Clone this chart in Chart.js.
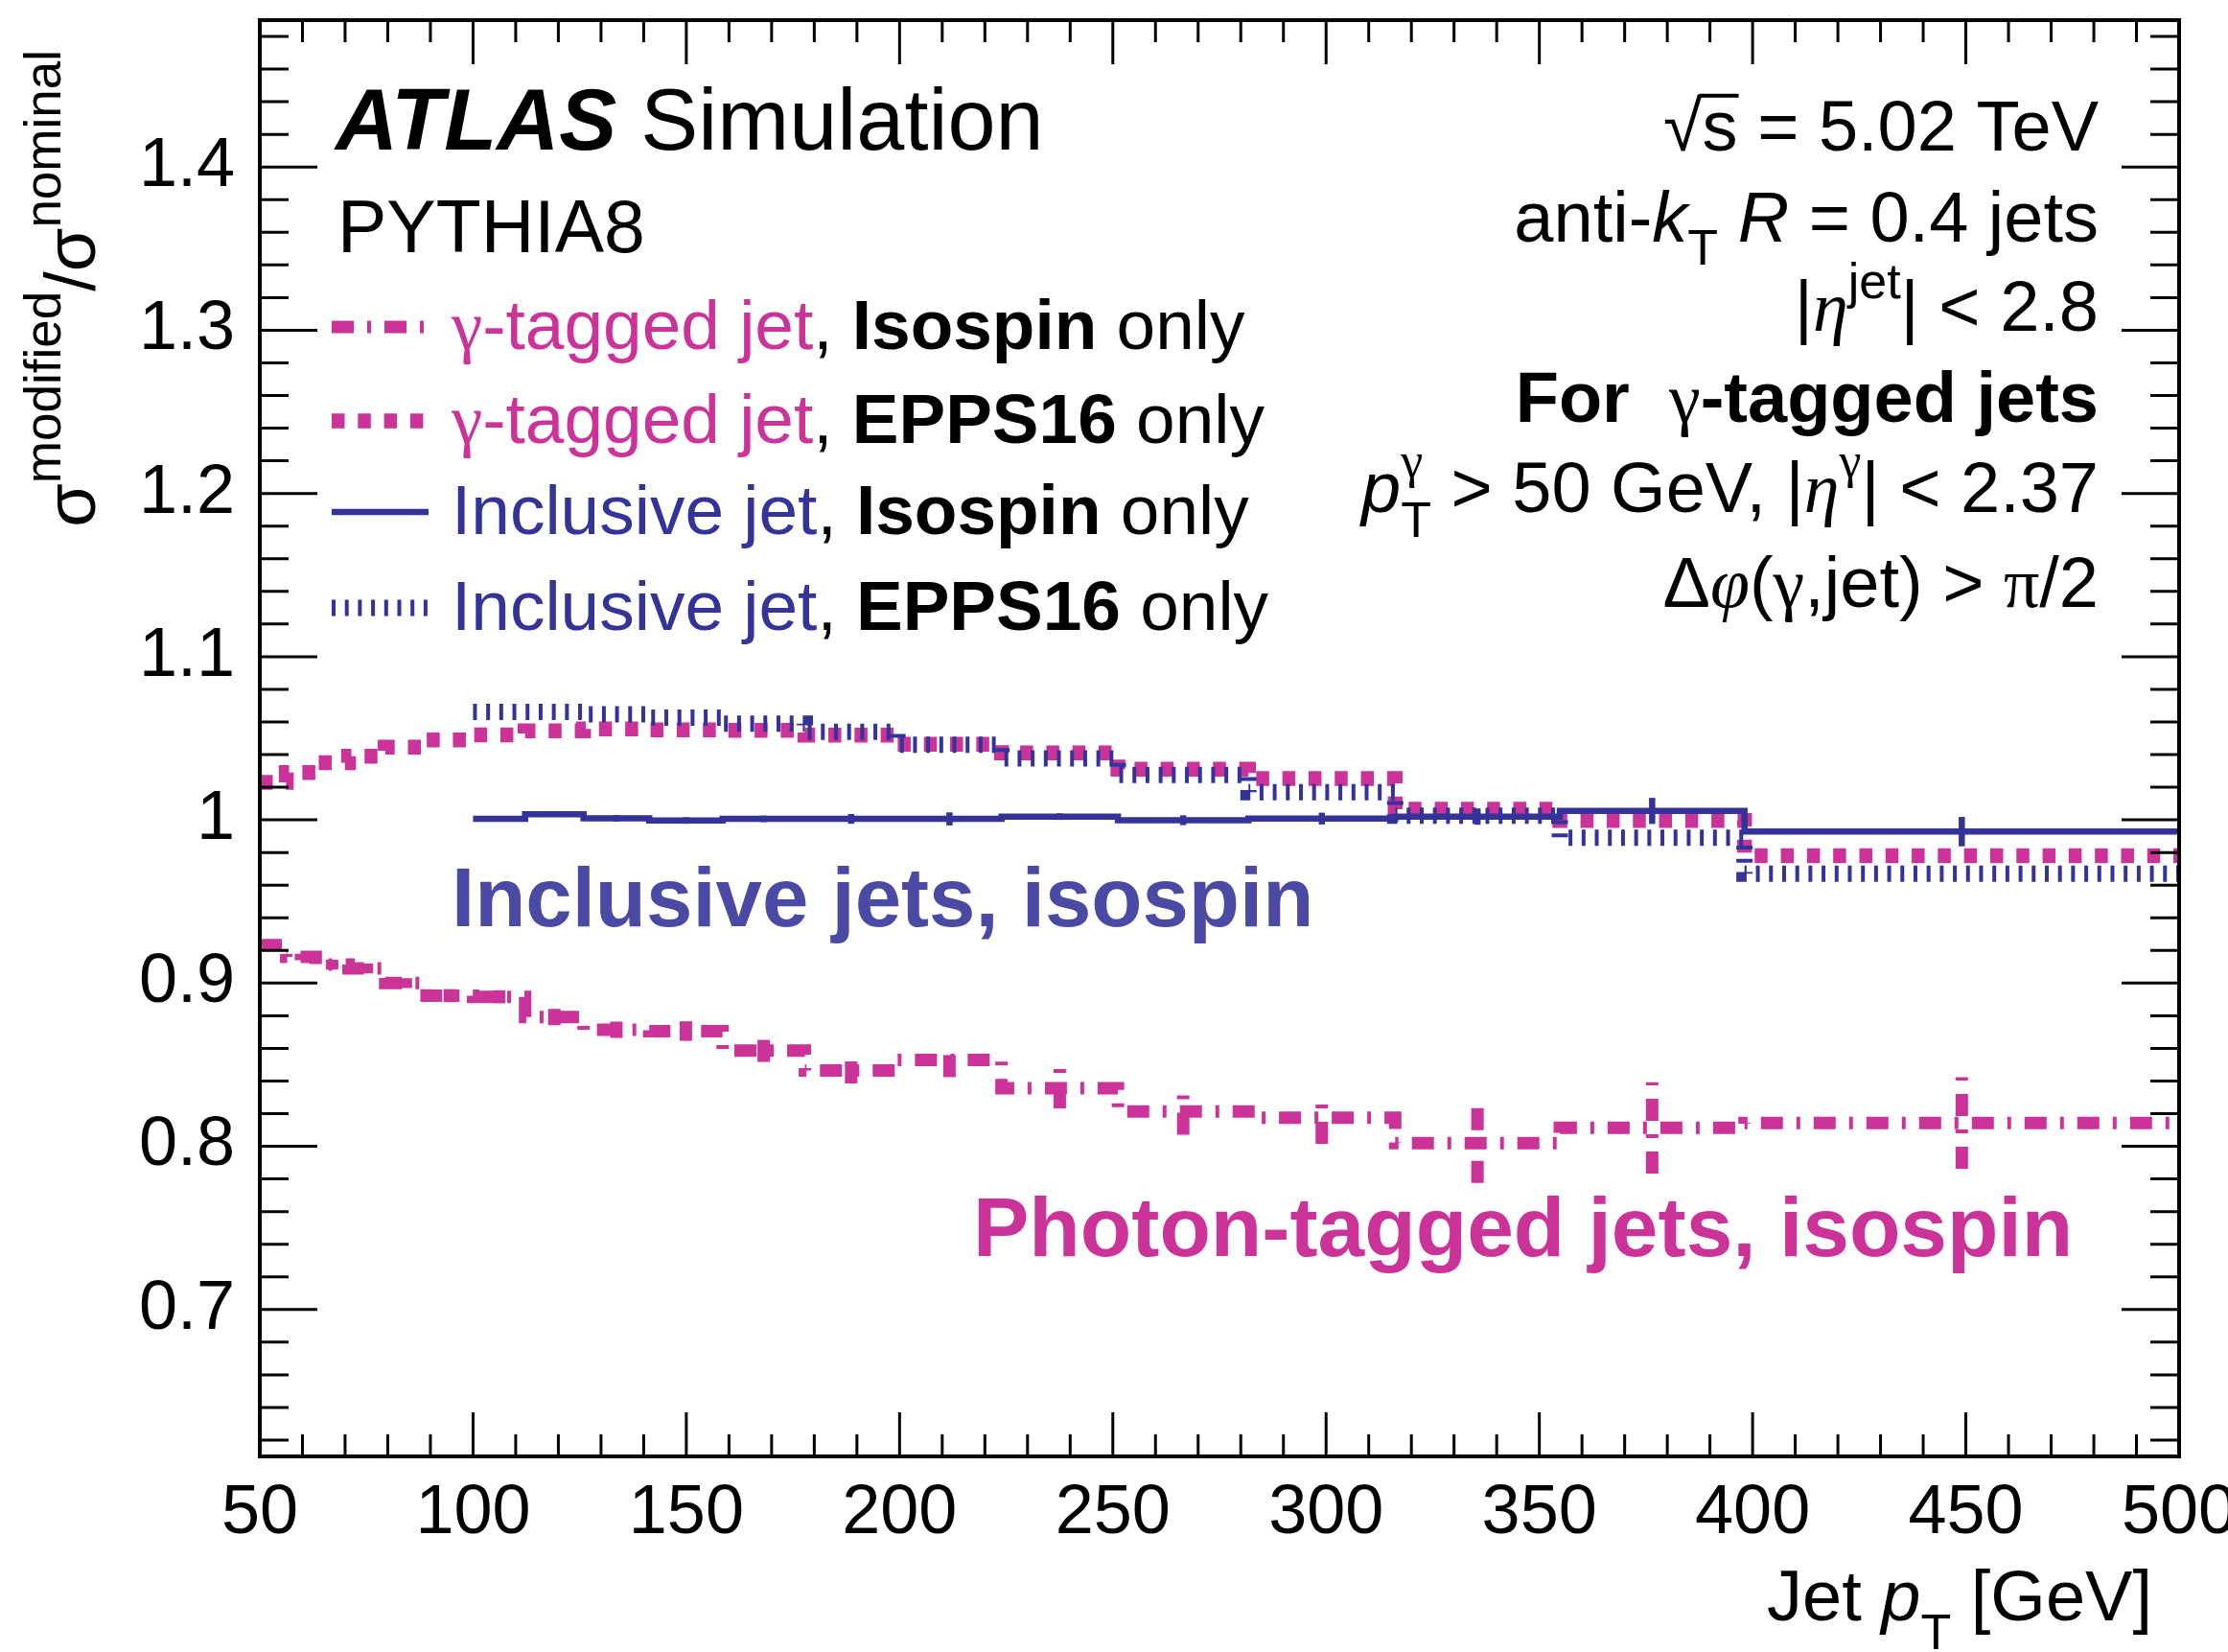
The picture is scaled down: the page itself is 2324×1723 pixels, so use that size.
<!DOCTYPE html>
<html>
<head>
<meta charset="utf-8">
<script src="https://cdn.jsdelivr.net/npm/chart.js@4.4.1/dist/chart.umd.min.js"></script>
<style>
  html, body { margin: 0; padding: 0; background: #fff; }
  canvas { display: block; }
</style>
</head>
<body>
<canvas id="ratio" width="2324" height="1723"></canvas>
<script>
// jet pT bin edges [GeV], photon-tagged jets use all of them, inclusive jets start at 100
const binEdges = [50, 56.2, 63.1, 70.8, 79.4, 89.1, 100, 112.2, 125.9, 141.3, 158.5, 177.8, 199.5, 223.9, 251.2, 281.8, 316.2, 354.8, 398.1, 500];
const inclusiveEdges = binEdges.slice(6);

// modified / nominal cross-section ratios
const photonIsospin = [0.9233, 0.9160, 0.9113, 0.9090, 0.9000, 0.8923, 0.8916, 0.8792, 0.8714, 0.8706, 0.8587, 0.8465, 0.8529, 0.8356, 0.8214, 0.8175, 0.8020, 0.8113, 0.8143];
const photonIsospinErr = [0.002, 0.002, 0.003, 0.003, 0.003, 0.004, 0.004, 0.005, 0.005, 0.006, 0.007, 0.008, 0.0105, 0.0124, 0.0143, 0.016, 0.0245, 0.028, 0.028];
const photonEpps16 = [1.023, 1.029, 1.035, 1.039, 1.0445, 1.049, 1.052, 1.0545, 1.0557, 1.0552, 1.0548, 1.0519, 1.0463, 1.0411, 1.031, 1.0254, 1.0065, 0.9996, 0.978];
const inclusiveIsospin = [1.0006, 1.0035, 1.001, 0.9996, 1.0006, 1.0006, 1.0006, 1.002, 0.9998, 1.0008, 1.002, 1.0055, 0.9928];
const inclusiveIsospinErr = [0.0015, 0.0015, 0.002, 0.002, 0.002, 0.003, 0.004, 0.002, 0.003, 0.0036, 0.005, 0.008, 0.009];
const inclusiveEpps16 = [1.0662, 1.0662, 1.0647, 1.0627, 1.059, 1.054, 1.0461, 1.0377, 1.0276, 1.017, 1.0025, 0.989, 0.967];

const xTicks = [50, 100, 150, 200, 250, 300, 350, 400, 450, 500];
const yTicks = [0.7, 0.8, 0.9, 1.0, 1.1, 1.2, 1.3, 1.4];
const yTickLabels = ['0.7', '0.8', '0.9', '1', '1.1', '1.2', '1.3', '1.4'];

const PINK = '#cc3399';
const BLUE = '#333399';
const FONT = '"Liberation Sans", Arial, Helvetica, sans-serif';
const GREEK = '"Liberation Serif", "Times New Roman", serif';

// one point per left bin edge plus the closing right edge, drawn as steps
function histPoints(edges, values) {
  const pts = values.map((v, i) => ({ x: edges[i], y: v }));
  pts.push({ x: edges[values.length], y: values[values.length - 1] });
  return pts;
}

function runFont(r, base) {
  return (r.italic ? 'italic ' : '') + (r.bold ? 'bold ' : '') + (r.size || base) + 'px ' + (r.greek ? GREEK : FONT);
}

// draws a line of mixed-style text pieces
function drawRuns(ctx, runs, x, y, base, align) {
  let w = 0;
  runs.forEach(r => {
    ctx.font = runFont(r, base);
    r.w = ctx.measureText(r.t).width;
    if (!r.noAdvance) w += r.w;
  });
  let cx = align === 'right' ? x - w : x;
  ctx.textAlign = 'left';
  ctx.textBaseline = 'alphabetic';
  runs.forEach(r => {
    ctx.font = runFont(r, base);
    ctx.fillStyle = r.color || '#000';
    ctx.fillText(r.t, cx, y + (r.dy || 0));
    if (r.overline) ctx.fillRect(cx - 3, y - base * 0.8, r.w + 4, 4);
    if (!r.noAdvance) cx += r.w;
  });
}

const errorBars = {
  id: 'errorBars',
  afterDatasetsDraw(chart) {
    const { ctx, chartArea: a, scales: { x, y } } = chart;
    ctx.save();
    ctx.beginPath();
    ctx.rect(a.left, a.top, a.width, a.height);
    ctx.clip();
    chart.data.datasets.forEach(ds => {
      if (!ds.binErrors) return;
      ctx.strokeStyle = ds.borderColor;
      ctx.lineWidth = ds.borderWidth;
      ctx.lineCap = 'butt';
      ctx.setLineDash(ds.borderDash || []);
      ds.binErrors.forEach((e, i) => {
        const px = x.getPixelForValue((ds.binEdges[i] + ds.binEdges[i + 1]) / 2);
        const v = ds.data[i].y;
        ctx.beginPath();
        ctx.moveTo(px, y.getPixelForValue(v - e));
        ctx.lineTo(px, y.getPixelForValue(v + e));
        ctx.stroke();
      });
    });
    ctx.restore();
  }
};

// frame with inward ticks on all four sides
const frame = {
  id: 'frame',
  afterDatasetsDraw(chart) {
    const { ctx, chartArea: a, scales: { x, y } } = chart;
    ctx.save();
    ctx.strokeStyle = '#000';
    ctx.setLineDash([]);
    ctx.lineWidth = 3;
    ctx.beginPath();
    for (let k = 5; k <= 50; k++) {
      const px = x.getPixelForValue(k * 10);
      const len = k % 5 === 0 ? 46 : 23;
      ctx.moveTo(px, a.bottom); ctx.lineTo(px, a.bottom - len);
      ctx.moveTo(px, a.top); ctx.lineTo(px, a.top + len);
    }
    for (let k = 31; k <= 74; k++) {
      const py = y.getPixelForValue(k * 0.02);
      const len = k % 5 === 0 ? 60 : 30;
      ctx.moveTo(a.left, py); ctx.lineTo(a.left + len, py);
      ctx.moveTo(a.right, py); ctx.lineTo(a.right - len, py);
    }
    ctx.stroke();
    ctx.lineWidth = 4;
    ctx.strokeRect(a.left, a.top, a.width, a.height);
    ctx.restore();
  }
};

const labels = {
  id: 'labels',
  afterDraw(chart) {
    const ctx = chart.ctx;
    ctx.save();

    drawRuns(ctx, [{ t: 'ATLAS', bold: true, italic: true }, { t: ' Simulation' }], 350, 156, 90);
    drawRuns(ctx, [{ t: 'PYTHIA8' }], 352, 263, 77);

    // legend: sample line taken from each dataset, then the label
    const rows = [
      { ds: 3, y: 364, runs: [{ t: 'γ', greek: true, color: PINK }, { t: '-tagged jet', color: PINK }, { t: ', ' }, { t: 'Isospin', bold: true }, { t: ' only' }] },
      { ds: 2, y: 462, runs: [{ t: 'γ', greek: true, color: PINK }, { t: '-tagged jet', color: PINK }, { t: ', ' }, { t: 'EPPS16', bold: true }, { t: ' only' }] },
      { ds: 0, y: 557, runs: [{ t: 'Inclusive jet', color: BLUE }, { t: ', ' }, { t: 'Isospin', bold: true }, { t: ' only' }] },
      { ds: 1, y: 657, runs: [{ t: 'Inclusive jet', color: BLUE }, { t: ', ' }, { t: 'EPPS16', bold: true }, { t: ' only' }] }
    ];
    rows.forEach(row => {
      const ds = chart.data.datasets[row.ds];
      ctx.strokeStyle = ds.borderColor;
      ctx.lineWidth = ds.borderWidth;
      ctx.lineCap = 'butt';
      ctx.setLineDash(ds.borderDash || []);
      ctx.beginPath();
      ctx.moveTo(346, row.y - 23);
      ctx.lineTo(447, row.y - 23);
      ctx.stroke();
      ctx.setLineDash([]);
      drawRuns(ctx, row.runs, 471, row.y, 73);
    });

    // selection text, right aligned
    const R = 2189;
    drawRuns(ctx, [{ t: '√' }, { t: 's', overline: true }, { t: ' = 5.02 TeV' }], R, 157, 74, 'right');
    drawRuns(ctx, [{ t: 'anti-' }, { t: 'k', italic: true }, { t: 'T', size: 52, dy: 24 }, { t: ' ' }, { t: 'R', italic: true }, { t: ' = 0.4 jets' }], R, 252, 74, 'right');
    drawRuns(ctx, [{ t: '|' }, { t: 'η', italic: true, greek: true }, { t: 'jet', size: 52, dy: -34 }, { t: '| < 2.8' }], R, 345, 74, 'right');
    drawRuns(ctx, [{ t: 'For  ', bold: true }, { t: 'γ', greek: true }, { t: '-tagged jets', bold: true }], R, 440, 74, 'right');
    drawRuns(ctx, [{ t: 'p', italic: true }, { t: 'γ', greek: true, size: 52, dy: -36, noAdvance: true }, { t: 'T', size: 52, dy: 26 }, { t: ' > 50 GeV, |' }, { t: 'η', italic: true, greek: true }, { t: 'γ', greek: true, size: 52, dy: -36 }, { t: '| < 2.37' }], R, 534, 74, 'right');
    drawRuns(ctx, [{ t: 'Δ' }, { t: 'φ', italic: true, greek: true }, { t: '(' }, { t: 'γ', greek: true }, { t: ',jet) > ' }, { t: 'π', greek: true }, { t: '/2' }], R, 633, 74, 'right');

    // curve annotations
    drawRuns(ctx, [{ t: 'Inclusive jets, isospin', bold: true, color: '#4a4aa4' }], 471, 966, 87);
    drawRuns(ctx, [{ t: 'Photon-tagged jets, isospin', bold: true, color: PINK }], 1015, 1310, 87.5);

    // axis titles
    drawRuns(ctx, [{ t: 'Jet ' }, { t: 'p', italic: true }, { t: 'T', size: 52, dy: 30 }, { t: ' [GeV]' }], 2245, 1690, 74, 'right');
    ctx.translate(99, 52);
    ctx.rotate(-Math.PI / 2);
    drawRuns(ctx, [{ t: 'σ' }, { t: 'modified', size: 53, dy: -36 }, { t: '/' }, { t: 'σ' }, { t: 'nominal', size: 53, dy: -36 }], 0, 0, 74, 'right');

    ctx.restore();
  }
};

const histStyle = { stepped: true, pointRadius: 0, fill: false, tension: 0, borderCapStyle: 'butt', borderJoinStyle: 'miter' };

new Chart(document.getElementById('ratio'), {
  type: 'line',
  data: {
    datasets: [
      Object.assign({ label: 'Inclusive jet, Isospin only', data: histPoints(inclusiveEdges, inclusiveIsospin), binEdges: inclusiveEdges, binErrors: inclusiveIsospinErr, borderColor: BLUE, borderWidth: 6.5, borderDash: [] }, histStyle),
      Object.assign({ label: 'Inclusive jet, EPPS16 only', data: histPoints(inclusiveEdges, inclusiveEpps16), borderColor: BLUE, borderWidth: 17, borderDash: [4, 9.7] }, histStyle),
      Object.assign({ label: 'γ-tagged jet, EPPS16 only', data: histPoints(binEdges, photonEpps16), borderColor: PINK, borderWidth: 15.5, borderDash: [13.5, 13.8] }, histStyle),
      Object.assign({ label: 'γ-tagged jet, Isospin only', data: histPoints(binEdges, photonIsospin), binEdges: binEdges, binErrors: photonIsospinErr, borderColor: PINK, borderWidth: 13, borderDash: [23, 14, 4, 14] }, histStyle)
    ]
  },
  options: {
    responsive: false,
    animation: false,
    devicePixelRatio: 1,
    layout: { padding: { top: 21, right: 51, left: 0, bottom: 0 } },
    plugins: { legend: { display: false }, tooltip: { enabled: false } },
    scales: {
      x: {
        type: 'linear', min: 50, max: 500,
        grid: { display: false, drawTicks: false },
        border: { display: false },
        ticks: { font: { size: 72, family: FONT }, color: '#000', padding: 17, maxRotation: 0, autoSkip: false, callback: v => String(v) },
        afterBuildTicks: s => { s.ticks = xTicks.map(v => ({ value: v })); },
        afterFit: s => { s.height = 204; s.paddingLeft = 0; s.paddingRight = 0; }
      },
      y: {
        type: 'linear', min: 0.61, max: 1.49,
        grid: { display: false, drawTicks: false },
        border: { display: false },
        ticks: { font: { size: 72, family: FONT }, color: '#000', padding: 26, autoSkip: false, callback: (v, i) => yTickLabels[i] },
        afterBuildTicks: s => { s.ticks = yTicks.map(v => ({ value: v })); },
        afterFit: s => { s.width = 271; s.paddingTop = 0; s.paddingBottom = 0; }
      }
    }
  },
  plugins: [errorBars, frame, labels]
});
</script>
</body>
</html>
